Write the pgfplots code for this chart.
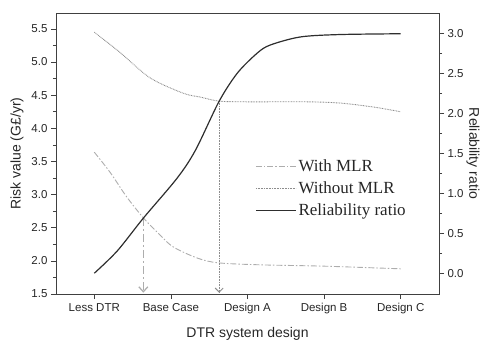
\documentclass[border=0pt]{standalone}
\usepackage{fontspec}
\setmainfont{Liberation Sans}
\newfontfamily\serif{Liberation Serif}
\usepackage{pgfplots}
\pgfplotsset{compat=1.18}
\usetikzlibrary{arrows.meta}
\definecolor{withc}{gray}{0.68}
\definecolor{woc}{gray}{0.55}
\definecolor{relc}{gray}{0.18}
\definecolor{axc}{gray}{0.25}
\begin{document}
\begin{tikzpicture}
\pgfplotsset{
  common/.style={
    scale only axis, width=383pt, height=281pt,
    xmin=-0.5, xmax=4.5,
    tick align=outside,
    major tick length=5pt, minor tick length=3pt,
    every tick/.style={axc, line width=0.7pt},
    axis line style={axc, line width=0.8pt},
    tick label style={font=\fontsize{11.5}{13}\selectfont, text=black!85},
    label style={font=\fontsize{14}{16}\selectfont, text=black!85},
    /pgf/number format/assume math mode=true,
    yticklabel style={/pgf/number format/.cd, fixed, fixed zerofill, precision=1},
  }
}
\begin{axis}[common, name=ax1,
  ymin=1.5, ymax=5.74,
  ytick={1.5,2,2.5,3,3.5,4,4.5,5,5.5},
  minor y tick num=1,
  xtick={0,1,2,3,4},
  xticklabels={Less DTR, Base Case, Design A, Design B, Design C},
  xtick pos=bottom, ytick pos=left,
  ylabel={Risk value (G£/yr)},
  xlabel={DTR system design},
  ylabel style={at={(axis description cs:-0.102,0.5)}, anchor=center},
  xlabel style={at={(axis description cs:0.5,-0.143)}, anchor=center},
  xticklabel style={yshift=-1pt},
]
\addplot[withc, line width=0.9pt, smooth, dash pattern=on 6pt off 2pt on 1.5pt off 2pt] coordinates {
(0,3.64) (0.21,3.33) (0.42,2.97) (0.64,2.65) (0.85,2.40) (1.03,2.21) (1.35,2.04) (1.62,1.97) (2.17,1.94) (3,1.92) (4,1.88)};
\addplot[woc, line width=0.9pt, smooth, dash pattern=on 0.8pt off 0.8pt] coordinates {
(0,5.45) (0.34,5.14) (0.73,4.76) (1.16,4.53) (1.39,4.47) (1.63,4.41) (2,4.40) (2.78,4.40) (3.22,4.38) (3.65,4.32) (4,4.25)};
\addplot[withc, line width=1.2pt, dash pattern=on 8pt off 3pt on 2pt off 3pt, -{Straight Barb[length=5pt,width=9pt]}] coordinates {(0.64,2.65) (0.64,1.52)};
\addplot[woc, line width=0.9pt, dash pattern=on 0.8pt off 0.8pt, -{Straight Barb[length=4pt,width=8pt]}] coordinates {(1.63,4.41) (1.63,1.52)};
\end{axis}
\begin{axis}[common, name=ax2,
  axis x line=none,
  axis y line*=right,
  ymin=-0.26, ymax=3.26,
  ytick={0,0.5,1,1.5,2,2.5,3},
  minor y tick num=1,
  ylabel={Reliability ratio},
  ylabel style={at={(axis description cs:1.089,0.5)}, anchor=center, rotate=180},
  legend style={at={(0.52,0.487)}, anchor=north west, draw=none, fill=none,
    font=\serif\fontsize{17}{19}\selectfont, text=black!85, row sep=5pt,
    inner sep=0pt},
  legend cell align=left,
  legend image code/.code={\draw[#1] (0pt,0pt) -- (40pt,0pt);},
]
\addlegendimage{withc, line width=0.9pt, dash pattern=on 6pt off 2pt on 1.5pt off 2pt}
\addlegendentry{With MLR}
\addlegendimage{woc, line width=0.9pt, dash pattern=on 0.8pt off 0.8pt}
\addlegendentry{Without MLR}
\addplot[relc, line width=1.2pt, smooth] coordinates {
(0,0.00) (0.3,0.28) (0.64,0.69) (1.08,1.19) (1.32,1.54) (1.63,2.155) (1.87,2.51) (2.13,2.76) (2.30,2.86) (2.69,2.96) (3.2,2.99) (4,3.00)};
\addlegendentry{Reliability ratio}
\end{axis}
\pgfresetboundingbox
\path ([shift={(-56pt,-46pt)}]ax1.south west) rectangle ([shift={(42pt,13pt)}]ax1.north east);
\end{tikzpicture}
\end{document}
